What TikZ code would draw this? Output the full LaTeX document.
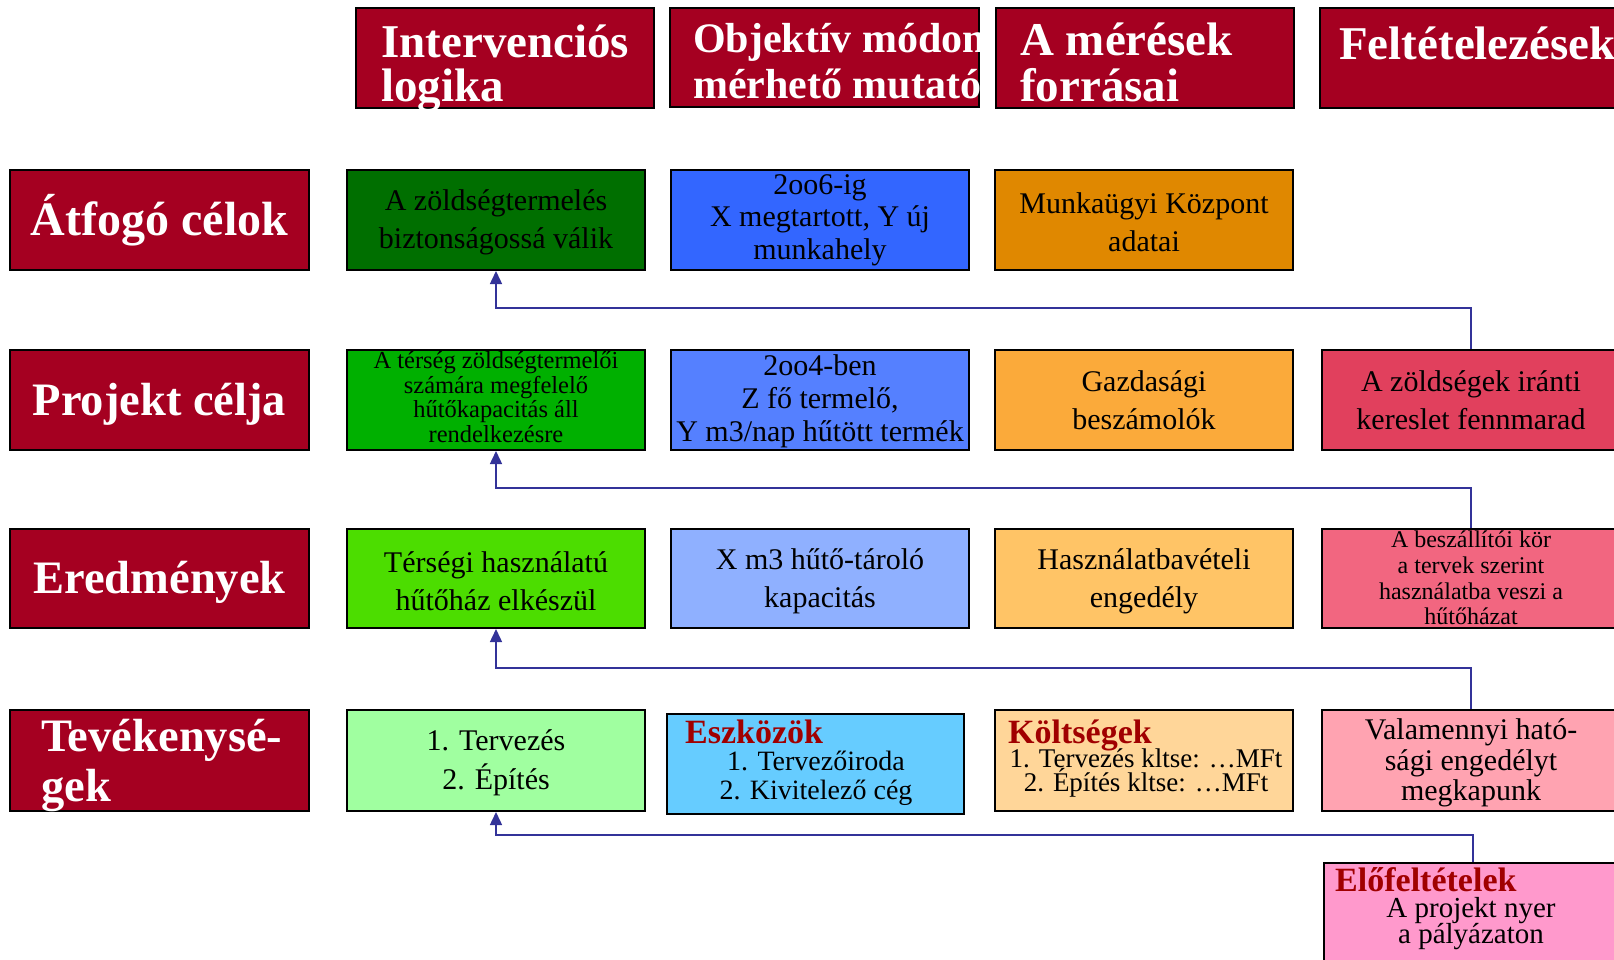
\documentclass[tikz,border=0pt]{standalone}
\usepackage{fontspec}
\setmainfont{Liberation Serif}
\usetikzlibrary{arrows.meta}
\definecolor{hdr}{HTML}{A50021}
\definecolor{gA}{HTML}{006F00}
\definecolor{bA}{HTML}{3366FF}
\definecolor{oA}{HTML}{E08800}
\definecolor{gB}{HTML}{00B000}
\definecolor{bB}{HTML}{5580FF}
\definecolor{oB}{HTML}{FBAA3A}
\definecolor{pB}{HTML}{E1405D}
\definecolor{gC}{HTML}{4CDD00}
\definecolor{bC}{HTML}{8FB0FF}
\definecolor{oC}{HTML}{FFC466}
\definecolor{pC}{HTML}{F26680}
\definecolor{gD}{HTML}{A0FFA0}
\definecolor{bD}{HTML}{66CCFF}
\definecolor{oD}{HTML}{FFD699}
\definecolor{pD}{HTML}{FFA3B1}
\definecolor{pE}{HTML}{FF99CC}
\definecolor{conncol}{HTML}{333399}
\definecolor{ttl}{HTML}{A00000}
\tikzset{
  cell/.style={draw=black, line width=2pt, inner sep=0pt, minimum width=298, minimum height=100},
  hcell/.style={cell, fill=hdr},
  htxt/.style={text=white, inner sep=0pt, font=\fontsize{47}{47}\bfseries\selectfont},
  ltxt/.style={text=white, inner sep=0pt, font=\fontsize{46.5}{46.5}\bfseries\selectfont},
  rt/.style={inner sep=0pt, align=center, text=black, font=\fontsize{30}{38}\selectfont},
  st/.style={inner sep=0pt, align=center, text=black, font=\fontsize{24.5}{24.5}\selectfont},
  ttltxt/.style={inner sep=0pt, text=ttl, font=\fontsize{34}{34}\bfseries\selectfont},
  conn/.style={draw=conncol, line width=1.5pt, -{Triangle[length=13pt,width=12pt]}}
}
\begin{document}
\begin{tikzpicture}[x=1pt,y=-1pt]
\useasboundingbox (0,0) rectangle (1614,959);
\clip (0,0) rectangle (1614,959);
\fill[white] (0,0) rectangle (1614,959);

% header row (later boxes cover the overflow of earlier texts)
\node[hcell] (h1) at (505,58) {};
\node[htxt, anchor=base west] (h1a) at (381,57) {Intervenciós};
\node[htxt, anchor=base west] (h1b) at (381,101) {logika};
\node[hcell, minimum width=309, minimum height=99] (h2) at (824.5,57.5) {};
\node[htxt, anchor=base west, font=\fontsize{42}{42}\bfseries\selectfont] (h2a) at (693,52) {Objektív módon};
\node[htxt, anchor=base west, font=\fontsize{42}{42}\bfseries\selectfont] (h2b) at (693,98) {mérhető mutatók};
\node[hcell] (h3) at (1145,58) {};
\node[htxt, anchor=base west] (h3a) at (1020,55) {A mérések};
\node[htxt, anchor=base west] (h3b) at (1020,101) {forrásai};
\node[hcell] (h4) at (1469,58) {};
\node[htxt, anchor=base west] (h4a) at (1339,59) {Feltételezések};

% row labels
\node[hcell, minimum width=299] (l1) at (159.5,220) {};
\node[hcell, minimum width=299] (l2) at (159.5,400) {};
\node[hcell, minimum width=299, minimum height=99] (l3) at (159.5,578.5) {};
\node[hcell, minimum width=299, minimum height=101] (l4) at (159.5,760.5) {};
\node[ltxt, anchor=base, font=\fontsize{48}{48}\bfseries\selectfont] (l1t) at (159.5,235) {Átfogó célok};
\node[ltxt, anchor=base] (l2t) at (159.5,415) {Projekt célja};
\node[ltxt, anchor=base] (l3t) at (159.5,593) {Eredmények};
\node[ltxt, anchor=base west] (l4a) at (41,751) {Tevékenysé-};
\node[ltxt, anchor=base west] (l4b) at (41,801) {gek};

% row 1
\node[cell, fill=gA] (r1c1) at (496,220) {};
\node[cell, fill=bA] (r1c2) at (820,220) {};
\node[cell, fill=oA] (r1c3) at (1144,220) {};
\node[rt] (t11) at (496,222) {A zöldségtermelés\\biztonságossá válik};
\node[rt, font=\fontsize{30}{32.5}\selectfont] (t12) at (r1c2.center) {2oo6-ig\\X megtartott, Y új\\munkahely};
\node[rt] (t13) at (1144,222) {Munkaügyi Központ\\adatai};

% row 2
\node[cell, fill=gB] (r2c1) at (496,400) {};
\node[cell, fill=bB] (r2c2) at (820,400) {};
\node[cell, fill=oB] (r2c3) at (1144,400) {};
\node[cell, fill=pB] (r2c4) at (1471,400) {};
\node[st] (t21) at (496,397) {A térség zöldségtermelői\\számára megfelelő\\hűtőkapacitás áll\\rendelkezésre};
\node[rt, font=\fontsize{30}{33}\selectfont] (t22) at (820,401) {2oo4-ben\\Z fő termelő,\\Y m3/nap hűtött termék};
\node[rt] (t23) at (r2c3.center) {Gazdasági\\beszámolók};
\node[rt] (t24) at (r2c4.center) {A zöldségek iránti\\kereslet fennmarad};

% row 3
\node[cell, fill=gC, minimum height=99] (r3c1) at (496,578.5) {};
\node[cell, fill=bC, minimum height=99] (r3c2) at (820,578.5) {};
\node[cell, fill=oC, minimum height=99] (r3c3) at (1144,578.5) {};
\node[cell, fill=pC, minimum height=99] (r3c4) at (1471,578.5) {};
\node[rt] (t31) at (496,581) {Térségi használatú\\hűtőház elkészül};
\node[rt] (t32) at (820,581) {X m3 hűtő-tároló\\kapacitás};
\node[rt] (t33) at (1144,581) {Használatbavételi\\engedély};
\node[st, font=\fontsize{24}{25.7}\selectfont] (t34) at (1471,578) {A beszállítói kör\\a tervek szerint\\használatba veszi a\\hűtőházat};

% row 4
\node[cell, fill=gD, minimum height=101] (r4c1) at (496,760.5) {};
\node[cell, fill=bD, minimum width=297] (r4c2) at (815.5,764) {};
\node[cell, fill=oD, minimum height=101] (r4c3) at (1144,760.5) {};
\node[cell, fill=pD, minimum height=101] (r4c4) at (1471,760.5) {};
\node[rt, font=\fontsize{30}{39}\selectfont] (t41) at (496,763) {1. Tervezés\\2. Építés};
\node[ttltxt, anchor=base west] (t42h) at (685,743) {Eszközök};
\node[rt, font=\fontsize{28}{29}\selectfont, anchor=base] (t42a) at (816,770) {1. Tervezőiroda};
\node[rt, font=\fontsize{28}{29}\selectfont, anchor=base] (t42b) at (816,799) {2. Kivitelező cég};
\node[ttltxt, anchor=base west] (t43h) at (1008,743) {Költségek};
\node[rt, font=\fontsize{27}{24}\selectfont, anchor=base] (t43a) at (1146,767) {1. Tervezés kltse: …MFt};
\node[rt, font=\fontsize{27}{24}\selectfont, anchor=base] (t43b) at (1146,791) {2. Építés kltse: …MFt};
\node[rt, font=\fontsize{30}{30.5}\selectfont] (t44) at (1471,763) {Valamennyi ható-\\sági engedélyt\\megkapunk};

% preconditions
\node[cell, fill=pE] (pre) at (1473,913) {};
\node[ttltxt, anchor=base west] (preh) at (1335,891) {Előfeltételek};
\node[rt, font=\fontsize{29}{29}\selectfont, anchor=base] (prea) at (1471,917) {A projekt nyer};
\node[rt, font=\fontsize{29}{29}\selectfont, anchor=base] (preb) at (1471,943) {a pályázaton};

% connectors
\draw[conn] (r2c4.north) -- ++(0,-41) -| (r1c1.south);
\draw[conn] (r3c4.north) -- ++(0,-40) -| (r2c1.south);
\draw[conn] (r4c4.north) -- ++(0,-41) -| (r3c1.south);
\draw[conn] (pre.north) -- ++(0,-27) -| (r4c1.south);
\end{tikzpicture}
\end{document}
